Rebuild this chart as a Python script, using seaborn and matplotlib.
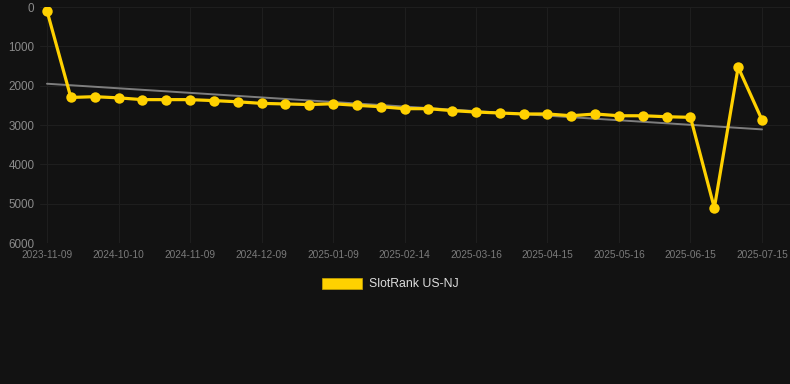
import numpy as np
import pandas as pd
import matplotlib
matplotlib.use("Agg")
import matplotlib.pyplot as plt
from matplotlib.patches import Patch
import seaborn as sns

# rank values (lower rank = better, axis inverted)
ranks = [100, 2300, 2280, 2310, 2355, 2355, 2355, 2380, 2410, 2450,
         2465, 2480, 2460, 2500, 2535, 2585, 2585, 2635, 2670, 2695,
         2720, 2720, 2765, 2720, 2765, 2765, 2790, 2805, 5110, 1530, 2870]
tick_labels = ['2023-11-09', '2024-10-10', '2024-11-09', '2024-12-09', '2025-01-09',
               '2025-02-14', '2025-03-16', '2025-04-15', '2025-05-16', '2025-06-15',
               '2025-07-15']
series_name = 'SlotRank US-NJ'

BG = '#121212'
YELLOW = '#FFD100'
GRID = '#1f1f1f'

sns.set_style("dark")
plt.rcParams.update({
    'figure.facecolor': BG,
    'axes.facecolor': BG,
    'savefig.facecolor': BG,
    'axes.edgecolor': BG,
    'axes.grid': True,
    'grid.color': GRID,
    'grid.linewidth': 0.7,
})
plt.rcParams['font.family'] = ['Liberation Sans', 'DejaVu Sans']

df = pd.DataFrame({'idx': np.arange(len(ranks)), 'rank': ranks})

fig = plt.figure(figsize=(7.9, 3.84), dpi=100)
ax = fig.add_axes([40 / 790, 1 - 243 / 384, 750 / 790, 236 / 384])

# trend line (least squares fit over the series)
slope, intercept = np.polyfit(df['idx'], df['rank'], 1)
trend = intercept + slope * df['idx']
ax.plot(df['idx'], trend, color='#8a8a8a', linewidth=1.4, alpha=0.9, zorder=2)

sns.lineplot(data=df, x='idx', y='rank', ax=ax, color=YELLOW, linewidth=2.3,
             marker='o', markersize=7.5, markeredgewidth=0, zorder=3)

ax.set_ylim(6000, 0)
ax.set_xlim(-0.294, 31.175)
ax.set_yticks([0, 1000, 2000, 3000, 4000, 5000, 6000])
ax.set_xticks(np.arange(0, len(ranks), 3))
ax.set_xticklabels(tick_labels)
ax.tick_params(axis='y', colors='#8a8a8a', labelsize=8.4, length=0, pad=4)
ax.tick_params(axis='x', colors='#7a7a7a', labelsize=7.3, length=0, pad=5)
ax.set_xlabel('')
ax.set_ylabel('')
for s in ax.spines.values():
    s.set_visible(False)
ax.grid(True, color=GRID, linewidth=0.7)

handle = Patch(facecolor=YELLOW, edgecolor='#c9a600', linewidth=0.5)
fig.legend([handle], [series_name], loc='center', bbox_to_anchor=(0.494, 1 - 284 / 384),
           frameon=False, fontsize=8.8, labelcolor='#dddddd',
           handlelength=3.3, handleheight=1.0, handletextpad=0.6)

fig.savefig('out.png', dpi=100)
